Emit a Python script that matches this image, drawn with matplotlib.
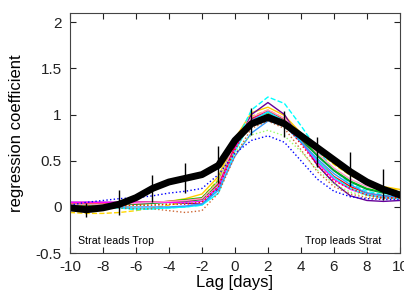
import numpy as np
import matplotlib
matplotlib.use("Agg")
import matplotlib.pyplot as plt

plt.rcParams["font.family"] = ["Liberation Sans", "DejaVu Sans"]

lags = np.arange(-10, 11)

# ensemble mean (thick black)
mean = [-0.01, -0.03, -0.01, 0.03, 0.10, 0.20, 0.27, 0.31, 0.35, 0.45, 0.72,
        0.90, 0.97, 0.90, 0.77, 0.64, 0.51, 0.38, 0.27, 0.19, 0.13]

err_lags = [-9, -7, -5, -3, -1, 1, 3, 5, 7, 9]
err_lo = [-0.11, -0.09, 0.05, 0.15, 0.26, 0.78, 0.76, 0.43, 0.23, 0.08]
err_hi = [0.04, 0.18, 0.35, 0.48, 0.66, 1.07, 1.04, 0.76, 0.60, 0.41]

# individual members: (color, linestyle, values)
members = [
    ("#FFCC00", "-",  [0.02, 0.02, 0.02, 0.02, 0.03, 0.04, 0.06, 0.09, 0.14, 0.33, 0.74, 1.02, 1.08, 0.99, 0.80, 0.62, 0.47, 0.35, 0.27, 0.22, 0.19]),
    ("#FFD700", "--", [-0.06, -0.07, -0.07, -0.06, -0.04, -0.01, 0.02, 0.05, 0.10, 0.30, 0.70, 0.98, 1.05, 0.96, 0.78, 0.60, 0.46, 0.34, 0.26, 0.21, 0.18]),
    ("#660099", "-",  [0.05, 0.05, 0.05, 0.05, 0.05, 0.05, 0.05, 0.04, 0.03, 0.20, 0.65, 1.00, 1.13, 1.00, 0.72, 0.45, 0.26, 0.12, 0.07, 0.06, 0.07]),
    ("#00FFFF", "--", [0.00, -0.01, -0.01, -0.01, -0.03, -0.02, -0.01, 0.00, 0.02, 0.20, 0.68, 1.05, 1.19, 1.12, 0.88, 0.62, 0.40, 0.25, 0.17, 0.13, 0.11]),
    ("#00CC00", "-",  [0.03, 0.03, 0.03, 0.03, 0.04, 0.05, 0.06, 0.08, 0.10, 0.28, 0.68, 0.95, 1.02, 0.93, 0.75, 0.56, 0.40, 0.28, 0.20, 0.16, 0.14]),
    ("#009933", "-",  [0.02, 0.02, 0.02, 0.03, 0.03, 0.04, 0.05, 0.06, 0.08, 0.25, 0.65, 0.93, 1.00, 0.92, 0.73, 0.55, 0.39, 0.27, 0.19, 0.15, 0.13]),
    ("#FF0000", "-",  [0.04, 0.04, 0.04, 0.04, 0.05, 0.05, 0.06, 0.07, 0.09, 0.26, 0.66, 0.96, 1.04, 0.94, 0.72, 0.50, 0.33, 0.22, 0.15, 0.12, 0.10]),
    ("#FF00FF", "-",  [0.05, 0.05, 0.05, 0.05, 0.05, 0.05, 0.05, 0.05, 0.06, 0.22, 0.63, 0.94, 1.03, 0.92, 0.70, 0.48, 0.30, 0.19, 0.13, 0.10, 0.09]),
    ("#FF99CC", "-",  [0.03, 0.03, 0.03, 0.03, 0.04, 0.05, 0.06, 0.07, 0.09, 0.27, 0.69, 0.97, 1.05, 0.96, 0.77, 0.58, 0.42, 0.30, 0.22, 0.18, 0.16]),
    ("#00FFFF", "-",  [0.00, 0.00, 0.00, -0.01, -0.02, -0.02, -0.01, 0.00, 0.02, 0.15, 0.60, 0.93, 1.03, 0.93, 0.71, 0.50, 0.32, 0.20, 0.13, 0.10, 0.09]),
    ("#3399FF", "-",  [0.00, 0.00, 0.00, 0.00, 0.00, 0.00, 0.00, 0.01, 0.03, 0.18, 0.55, 0.80, 0.93, 0.88, 0.70, 0.52, 0.36, 0.24, 0.15, 0.12, 0.11]),
    ("#99FF66", ":",  [0.00, 0.00, 0.00, 0.01, 0.01, 0.02, 0.03, 0.04, 0.05, 0.30, 0.60, 0.78, 0.83, 0.77, 0.60, 0.40, 0.25, 0.16, 0.12, 0.10, 0.10]),
    ("#0000FF", ":",  [0.02, 0.05, 0.07, 0.09, 0.10, 0.12, 0.15, 0.17, 0.20, 0.35, 0.58, 0.72, 0.77, 0.70, 0.50, 0.30, 0.17, 0.11, 0.09, 0.08, 0.08]),
    ("#CC6633", ":",  [0.00, -0.01, -0.01, -0.01, -0.02, -0.02, -0.04, -0.06, -0.04, 0.15, 0.55, 0.85, 0.93, 0.85, 0.62, 0.38, 0.22, 0.14, 0.10, 0.09, 0.09]),
    ("#FF0000", ":",  [0.01, 0.01, 0.01, 0.01, 0.02, 0.02, 0.03, 0.03, 0.05, 0.22, 0.62, 0.93, 1.00, 0.90, 0.68, 0.45, 0.28, 0.20, 0.13, 0.10, 0.10]),
]

fig = plt.figure(figsize=(4.04, 3.01), dpi=100)
ax = fig.add_axes([0.173, 0.159, 0.817, 0.798])

for color, ls, vals in members:
    ax.plot(lags, vals, color=color, ls=ls, lw=1.0)

ax.plot(lags, mean, color="black", lw=5, solid_joinstyle="round")
ax.vlines(err_lags, err_lo, err_hi, color="black", lw=1)

ax.text(-9.5, -0.37, "Strat leads Trop", fontsize=7.7, va="center", ha="left")
ax.text(8.9, -0.37, "Trop leads Strat", fontsize=7.7, va="center", ha="right")

ax.set_xlim(-10, 10)
ax.set_ylim(-0.5, 2.1)
ax.set_xticks(np.arange(-10, 11, 2))
ax.set_xticklabels([str(v) for v in range(-10, 11, 2)])
ax.set_yticks([-0.5, 0, 0.5, 1, 1.5, 2])
ax.set_yticklabels(["-0.5", "0", "0.5", "1", "1.5", "2"])
ax.tick_params(direction="in", length=4, width=0.8, labelsize=11,
               top=True, right=True, labeltop=True, colors="#222222")
ax.tick_params(axis="x", pad=5)
ax.tick_params(axis="y", pad=6)
for t in ax.xaxis.get_major_ticks():
    t.label2.set_y(1.045)
for s in ax.spines.values():
    s.set_color("#444444")
    s.set_linewidth(0.8)

ax.set_xlabel("Lag [days]", fontsize=12, labelpad=1)
ax.set_ylabel("regression coefficient", fontsize=12, labelpad=8)

fig.savefig("out.png", dpi=100)
